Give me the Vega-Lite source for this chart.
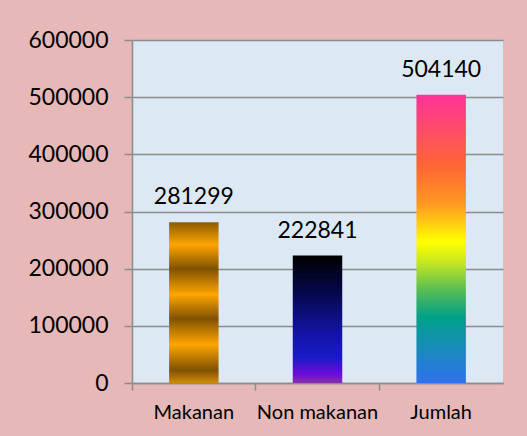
{
  "$schema": "https://vega.github.io/schema/vega-lite/v6.json",
  "width": 371,
  "height": 343,
  "autosize": {"type": "none"},
  "padding": {"left": 132, "top": 40, "right": 24, "bottom": 53},
  "background": "#e6b8b7",
  "config": {
    "view": {"fill": "#dce8f4", "stroke": null},
    "font": "Lato"
  },
  "data": {
    "values": [
      {"kategori": "Makanan", "nilai": 281299},
      {"kategori": "Non makanan", "nilai": 222841},
      {"kategori": "Jumlah", "nilai": 504140}
    ]
  },
  "encoding": {
    "x": {
      "field": "kategori",
      "type": "nominal",
      "sort": null,
      "scale": {"paddingInner": 0, "paddingOuter": 0},
      "axis": {
        "title": null,
        "labelAngle": 0,
        "labelFont": "Lato",
        "labelFontSize": 20,
        "labelColor": "#000000",
        "labelPadding": 12,
        "tickSize": 7,
        "tickColor": "#8c8c8c",
        "tickWidth": 1.5,
        "domainColor": "#8c8c8c",
        "domainWidth": 1.5,
        "bandPosition": 0,
        "grid": false
      }
    },
    "y": {
      "field": "nilai",
      "type": "quantitative",
      "scale": {"domain": [0, 600000], "nice": false},
      "axis": {
        "title": null,
        "values": [0, 100000, 200000, 300000, 400000, 500000, 600000],
        "format": "d",
        "labelFont": "Lato",
        "labelFontSize": 23,
        "labelColor": "#000000",
        "labelPadding": 16,
        "labelFlush": false,
        "tickSize": 8,
        "tickColor": "#8c8c8c",
        "tickWidth": 1.5,
        "domainColor": "#8c8c8c",
        "domainWidth": 1.5,
        "grid": true,
        "gridColor": "#8c8c8c",
        "gridWidth": 1.5
      }
    }
  },
  "layer": [
    {
      "transform": [{"filter": "datum.kategori === 'Makanan'"}],
      "mark": {
        "type": "bar",
        "width": {"band": 0.4},
        "color": {
          "gradient": "linear", "x1": 0, "y1": 0, "x2": 0, "y2": 1,
          "stops": [
            {"offset": 0, "color": "#8a5a00"},
            {"offset": 0.14, "color": "#ffa500"},
            {"offset": 0.29, "color": "#7f5200"},
            {"offset": 0.45, "color": "#ffa500"},
            {"offset": 0.6, "color": "#7f5200"},
            {"offset": 0.76, "color": "#ffa500"},
            {"offset": 0.92, "color": "#7f5200"},
            {"offset": 1, "color": "#d08a00"}
          ]
        }
      }
    },
    {
      "transform": [{"filter": "datum.kategori === 'Non makanan'"}],
      "mark": {
        "type": "bar",
        "width": {"band": 0.4},
        "color": {
          "gradient": "linear", "x1": 0, "y1": 0, "x2": 0, "y2": 1,
          "stops": [
            {"offset": 0, "color": "#000000"},
            {"offset": 0.3, "color": "#06084e"},
            {"offset": 0.62, "color": "#1414a8"},
            {"offset": 0.8, "color": "#1a1ac8"},
            {"offset": 0.93, "color": "#6a0cd8"},
            {"offset": 1, "color": "#8a30a8"}
          ]
        }
      }
    },
    {
      "transform": [{"filter": "datum.kategori === 'Jumlah'"}],
      "mark": {
        "type": "bar",
        "width": {"band": 0.4},
        "color": {
          "gradient": "linear", "x1": 0, "y1": 0, "x2": 0, "y2": 1,
          "stops": [
            {"offset": 0, "color": "#ff3399"},
            {"offset": 0.25, "color": "#ff6633"},
            {"offset": 0.38, "color": "#ff9922"},
            {"offset": 0.51, "color": "#ffff00"},
            {"offset": 0.58, "color": "#c8e820"},
            {"offset": 0.67, "color": "#60c050"},
            {"offset": 0.77, "color": "#00a088"},
            {"offset": 0.86, "color": "#1490b0"},
            {"offset": 1, "color": "#3070f0"}
          ]
        }
      }
    },
    {
      "mark": {
        "type": "text",
        "baseline": "alphabetic",
        "dy": -18,
        "font": "Lato",
        "fontSize": 23,
        "color": "#000000"
      },
      "encoding": {
        "text": {"field": "nilai", "type": "quantitative", "format": "d"}
      }
    }
  ]
}
